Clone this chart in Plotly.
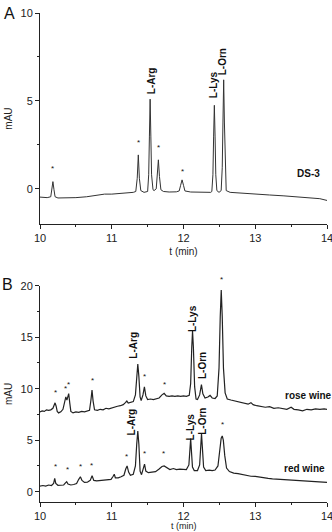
import plotly.graph_objects as go

# ---------------- Panel A: DS-3 ----------------
a_t = [10.00, 10.05, 10.10, 10.15, 10.165, 10.18, 10.195, 10.21, 10.25, 10.35, 10.50, 10.65, 10.80, 10.90,
       11.00, 11.10, 11.20, 11.30, 11.335, 11.355, 11.37, 11.385, 11.405, 11.45, 11.50, 11.515, 11.525,
       11.535, 11.545, 11.555, 11.575, 11.59, 11.62, 11.635, 11.65, 11.665, 11.685, 11.72, 11.80, 11.90,
       11.94, 11.96, 11.98, 12.00, 12.02, 12.10, 12.20, 12.30, 12.38, 12.395, 12.41, 12.42, 12.43, 12.44,
       12.45, 12.465, 12.495, 12.525, 12.54, 12.55, 12.56, 12.57, 12.58, 12.595, 12.65, 12.80, 13.00,
       13.20, 13.40, 13.60, 13.80, 13.90, 14.00]
a_y = [-0.47, -0.48, -0.50, -0.45, -0.10, 0.41, -0.05, -0.45, -0.52, -0.52, -0.50, -0.45, -0.38, -0.30,
       -0.30, -0.27, -0.24, -0.20, -0.15, 0.60, 1.93, 0.60, -0.10, -0.20, -0.15, 0.80, 3.00,
       5.10, 3.00, 0.80, -0.05, -0.10, 0.00, 0.70, 1.65, 0.70, -0.05, -0.15, -0.18, -0.17,
       -0.12, 0.20, 0.51, 0.20, -0.12, -0.18, -0.20, -0.20, -0.20, -0.15, 0.80, 3.00, 4.75, 3.00,
       0.80, -0.10, -0.20, -0.10, 1.20, 3.80, 6.20, 3.80, 1.20, -0.10, -0.20, -0.25, -0.30,
       -0.35, -0.40, -0.45, -0.52, -0.56, -0.66]

a_labels = ["L-Arg", "L-Lys", "L-Orn"]
a_label_t = [11.55, 12.42, 12.545]
a_label_y = [5.25, 5.05, 6.35]
a_star_t = [10.18, 11.37, 11.65, 11.98]
a_star_y = [0.80, 2.25, 1.98, 0.62]

# ---------------- Panel B: rose wine ----------------
rose_t = [10.00, 10.03, 10.06, 10.09, 10.12, 10.15, 10.18, 10.195, 10.21, 10.225, 10.24, 10.26, 10.29, 10.32,
          10.345, 10.36, 10.375, 10.39, 10.40, 10.415, 10.43, 10.46, 10.50, 10.54, 10.58, 10.62, 10.66,
          10.69, 10.71, 10.725, 10.74, 10.76, 10.80, 10.84, 10.88, 10.92, 10.96, 11.00, 11.04, 11.08,
          11.12, 11.16, 11.19, 11.21, 11.23, 11.27, 11.30, 11.33, 11.35, 11.363, 11.378, 11.395, 11.41,
          11.435, 11.455, 11.475, 11.50, 11.54, 11.58, 11.62, 11.66, 11.70, 11.73, 11.76, 11.80, 11.84,
          11.88, 11.92, 11.96, 12.00, 12.04, 12.08, 12.10, 12.115, 12.126, 12.138, 12.155, 12.175, 12.195,
          12.225, 12.25, 12.27, 12.30, 12.34, 12.37, 12.40, 12.44, 12.47, 12.495, 12.512, 12.526, 12.54,
          12.557, 12.58, 12.61, 12.66, 12.72, 12.78, 12.84, 12.90, 12.94, 12.97, 13.02, 13.08, 13.14,
          13.20, 13.26, 13.32, 13.38, 13.44, 13.50, 13.54, 13.60, 13.66, 13.72, 13.78, 13.84, 13.90,
          13.96, 14.00]
rose_y = [7.75, 7.85, 7.80, 7.95, 7.90, 7.95, 8.10, 8.40, 8.63, 8.30, 7.80, 7.65, 7.75, 8.00,
          8.80, 9.20, 8.90, 9.30, 9.53, 8.60, 7.80, 7.65, 7.75, 7.70, 7.80, 7.75, 7.85,
          7.90, 8.90, 9.86, 8.80, 7.95, 7.90, 8.00, 7.95, 8.10, 8.05, 8.15, 8.20, 8.30,
          8.35, 8.45, 8.65, 8.80, 8.60, 8.65, 8.75, 9.40, 11.20, 12.40, 11.20, 9.20, 8.85,
          9.40, 10.18, 9.30, 8.95, 9.00, 8.95, 9.05, 9.10, 9.40, 9.55, 9.30, 9.25, 9.30,
          9.25, 9.30, 9.25, 9.30, 9.25, 9.35, 10.50, 14.00, 15.60, 14.00, 10.20, 9.00, 8.95,
          9.40, 10.40, 9.50, 9.10, 9.20, 9.35, 9.10, 9.05, 9.30, 12.00, 17.00, 19.58, 17.00,
          12.00, 9.60, 9.00, 8.90, 8.80, 8.65, 8.60, 8.50, 8.65, 8.45, 8.35, 8.30, 8.20,
          8.25, 8.10, 8.15, 8.05, 8.00, 8.20, 8.00, 7.95, 7.85, 8.00, 7.95, 8.05, 8.00,
          8.05, 8.00]

# ---------------- Panel B: red wine ----------------
red_t = [10.00, 10.04, 10.08, 10.12, 10.16, 10.19, 10.205, 10.22, 10.25, 10.29, 10.33, 10.355, 10.372,
         10.39, 10.43, 10.47, 10.51, 10.54, 10.563, 10.585, 10.62, 10.66, 10.70, 10.726, 10.75, 10.79,
         10.84, 10.89, 10.94, 10.99, 11.02, 11.035, 11.05, 11.09, 11.13, 11.17, 11.195, 11.214, 11.235,
         11.26, 11.30, 11.33, 11.348, 11.363, 11.378, 11.395, 11.415, 11.44, 11.457, 11.475, 11.51, 11.56,
         11.61, 11.66, 11.70, 11.73, 11.77, 11.81, 11.86, 11.90, 11.95, 12.00, 12.04, 12.075, 12.09,
         12.10, 12.11, 12.125, 12.15, 12.195, 12.225, 12.24, 12.251, 12.262, 12.28, 12.31, 12.36, 12.40,
         12.44, 12.48, 12.505, 12.525, 12.54, 12.555, 12.575, 12.60, 12.64, 12.70, 12.76, 12.82, 12.88,
         12.94, 13.00, 13.06, 13.12, 13.18, 13.24, 13.30, 13.36, 13.42, 13.48, 13.54, 13.60, 13.66,
         13.72, 13.78, 13.84, 13.90, 13.96, 14.00]
red_y = [0.55, 0.60, 0.55, 0.65, 0.60, 0.80, 1.29, 0.80, 0.62, 0.60, 0.65, 0.85, 0.97,
         0.75, 0.65, 0.70, 0.80, 1.20, 1.45, 1.10, 0.90, 0.92, 1.10, 1.55, 1.10, 1.05,
         1.10, 1.10, 1.20, 1.20, 1.50, 1.70, 1.35, 1.35, 1.45, 1.60, 2.20, 2.50, 1.90,
         1.60, 1.70, 2.50, 4.60, 5.90, 4.60, 2.00, 1.65, 2.30, 2.67, 2.00, 1.85, 1.90,
         1.95, 2.20, 2.45, 2.50, 2.30, 2.15, 2.25, 2.15, 2.20, 2.20, 2.15, 2.60, 4.00,
         5.15, 4.00, 2.40, 2.05, 2.05, 2.60, 4.40, 5.64, 4.40, 2.40, 2.05, 2.10, 2.05,
         2.10, 2.50, 3.80, 5.20, 5.41, 5.00, 3.50, 2.30, 1.95, 1.80, 1.75, 1.65, 1.60,
         1.50, 1.48, 1.40, 1.35, 1.30, 1.25, 1.22, 1.20, 1.15, 1.13, 1.10, 1.05, 1.00,
         1.02, 0.95, 0.92, 0.90, 0.88, 0.90]

b_labels = ["L-Arg", "L-Lys", "L-Orn", "L-Arg", "L-Lys", "L-Orn"]
b_label_t = [11.30, 12.125, 12.265, 11.28, 12.10, 12.26]
b_label_y = [12.7, 15.3, 10.75, 5.3, 4.8, 5.3]
b_star_t = [10.21, 10.35, 10.40, 10.73, 11.46, 11.73, 12.53,
            10.21, 10.38, 10.56, 10.72, 11.21, 11.46, 11.72, 12.54]
b_star_y = [9.0, 9.4, 9.75, 10.2, 10.6, 9.75, 20.0,
            1.85, 1.55, 1.85, 1.9, 2.75, 3.05, 3.05, 5.85]

FONT = "Liberation Sans, Arial, sans-serif"
LINE = "#222222"

fig = go.Figure()
fig.add_trace(go.Scatter(x=a_t, y=a_y, mode="lines", line=dict(color="#333333", width=1),
                         xaxis="x", yaxis="y", showlegend=False, hoverinfo="skip"))
fig.add_trace(go.Scatter(x=rose_t, y=rose_y, mode="lines", line=dict(color=LINE, width=1.2),
                         xaxis="x2", yaxis="y2", showlegend=False, hoverinfo="skip"))
fig.add_trace(go.Scatter(x=red_t, y=red_y, mode="lines", line=dict(color=LINE, width=1.2),
                         xaxis="x2", yaxis="y2", showlegend=False, hoverinfo="skip"))

ann = []
for txt, t, y in zip(a_labels, a_label_t, a_label_y):
    ann.append(dict(x=t, y=y, xref="x", yref="y", text="<b>%s</b>" % txt, textangle=-90,
                    showarrow=False, xanchor="center", yanchor="bottom",
                    font=dict(family=FONT, size=10, color="#111")))
for t, y in zip(a_star_t, a_star_y):
    ann.append(dict(x=t, y=y, xref="x", yref="y", text="*", showarrow=False,
                    xanchor="center", yanchor="bottom", font=dict(family=FONT, size=8, color="#111")))
for txt, t, y in zip(b_labels, b_label_t, b_label_y):
    ann.append(dict(x=t, y=y, xref="x2", yref="y2", text="<b>%s</b>" % txt, textangle=-90,
                    showarrow=False, xanchor="center", yanchor="bottom",
                    font=dict(family=FONT, size=10, color="#111")))
for t, y in zip(b_star_t, b_star_y):
    ann.append(dict(x=t, y=y, xref="x2", yref="y2", text="*", showarrow=False,
                    xanchor="center", yanchor="bottom", font=dict(family=FONT, size=8, color="#111")))

ann.append(dict(x=13.74, y=0.87, xref="x", yref="y", text="<b>DS-3</b>", showarrow=False,
                font=dict(family=FONT, size=10, color="#111")))
ann.append(dict(x=14.0, y=9.34, xref="x2", yref="y2", text="<b>rose wine</b>", showarrow=False,
                xanchor="right", xshift=7, font=dict(family=FONT, size=10, color="#111")))
ann.append(dict(x=13.95, y=2.3, xref="x2", yref="y2", text="<b>red wine</b>", showarrow=False,
                xanchor="right", xshift=4, font=dict(family=FONT, size=10, color="#111")))
ann.append(dict(x=-0.108, y=0.998, xref="paper", yref="paper", text="A", showarrow=False,
                xanchor="center", yanchor="middle", font=dict(family=FONT, size=16, color="#111")))
ann.append(dict(x=-0.112, y=0.4438, xref="paper", yref="paper", text="B", showarrow=False,
                xanchor="center", yanchor="middle", font=dict(family=FONT, size=16, color="#111")))
ann.append(dict(x=0.5, y=-0.0613, xref="paper", yref="paper", text="t (min)", showarrow=False,
                xanchor="center", yanchor="bottom", borderpad=0,
                font=dict(family=FONT, size=9, color="#222")))

def xax(domain_anchor, title):
    d = dict(range=[10, 14], tickvals=[10, 11, 12, 13, 14], ticks="outside", ticklen=4,
             tickcolor=LINE, showline=True, linecolor=LINE, linewidth=1, showgrid=False,
             zeroline=False, anchor=domain_anchor, ticklabeloverflow="allow",
             minor=dict(dtick=0.5, tick0=10, ticks="outside", ticklen=2, tickcolor=LINE),
             tickfont=dict(family=FONT, size=11, color="#222"))
    if title:
        d["title"] = dict(text="t (min)", font=dict(family=FONT, size=10, color="#222"), standoff=4)
    return d

def yax(rng, vals, dom, anchor):
    return dict(range=rng, tickvals=vals, domain=dom, anchor=anchor, ticks="outside", ticklen=4,
                tickcolor=LINE, showline=True, linecolor=LINE, linewidth=1, showgrid=False,
                zeroline=False,
                minor=dict(dtick=2.5, tick0=0, ticks="outside", ticklen=2, tickcolor=LINE),
                tickfont=dict(family=FONT, size=11, color="#222"),
                title=dict(text="mAU", font=dict(family=FONT, size=10, color="#222"), standoff=6))

fig.update_layout(
    width=332, height=532,
    margin=dict(l=40, r=5, t=13, b=30, autoexpand=False),
    paper_bgcolor="white", plot_bgcolor="white",
    xaxis=xax("y", True),
    yaxis=yax([-2, 10], [0, 5, 10], [0.5685, 1.0], "x"),
    xaxis2=xax("y2", False),
    yaxis2=yax([-1, 20], [0, 5, 10, 15, 20], [0.0, 0.4423], "x2"),
    annotations=ann,
)
fig.write_html("out.html")
